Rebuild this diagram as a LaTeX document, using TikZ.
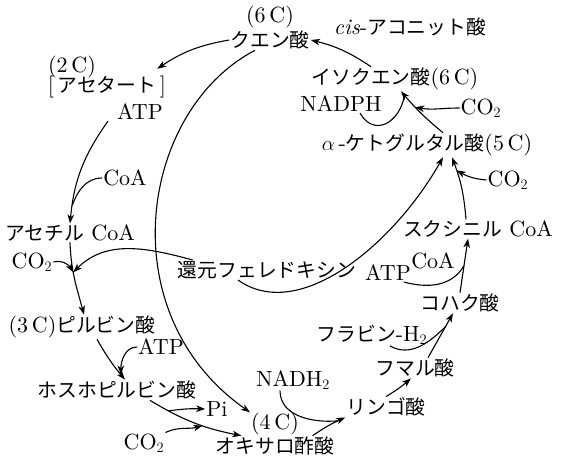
\documentclass[tikz,border=0pt]{standalone}
\usepackage{fontspec}
\setmainfont{lmroman10}[Extension=.otf,UprightFont=*-regular,ItalicFont=*-italic,BoldFont=*-bold]
\newfontfamily\jpfont{Noto Sans CJK JP}[Scale=0.9]
\usetikzlibrary{arrows.meta,positioning}

\begin{document}
\begin{tikzpicture}[
  x=1pt,y=1pt,
  >={Stealth[length=9pt,width=6.5pt,inset=2.5pt]},
  every node/.style={font=\fontsize{22}{26}\selectfont,inner sep=1pt},
  flow/.style={->,line width=1.1pt},
  side/.style={line width=1.1pt},
]
\useasboundingbox (0,0) rectangle (566,-461);

%% upper part of the cycle
\node (cit) at (270,-40) {\jpfont クエン酸};
\node[above=0pt of cit] (c6) {(6\,C)};
\node (cis) at (410,-27) {\textit{cis}-{\jpfont アコニット酸}};
\node (iso) at (395,-79) {{\jpfont イソクエン酸}(6\,C)};
\node (nadph) at (341,-104) {NADPH};
\node (co2a) at (481,-108) {CO$_2$};
\node (akg) at (427,-145) {$\alpha$\,-{\jpfont ケトグルタル酸}(5\,C)};
\node (co2b) at (508,-180) {CO$_2$};
\node (suc) at (478,-229) {{\jpfont スクシニル} CoA};
\node (coa2) at (433,-261) {CoA};
\node (atp2) at (388,-273) {ATP};
\node (fd) at (267,-270) {\jpfont 還元フェレドキシン};

%% lower right
\node (kohaku) at (460,-303) {\jpfont コハク酸};
\node (fad) at (372,-335) {{\jpfont フラビン}-H$_2$};
\node (fum) at (415,-368) {\jpfont フマル酸};
\node (mal) at (386,-407) {\jpfont リンゴ酸};
\node (nadh) at (293,-380) {NADH$_2$};
\node (oaa) at (275,-446) {\jpfont オキサロ酢酸};
\node[above=-1pt of oaa] (c4) {(4\,C)};

%% left side
\node (pi) at (217,-409) {Pi};
\node (co2d) at (144,-443) {CO$_2$};
\node (pep) at (117,-390) {\jpfont ホスホピルビン酸};
\node (atp3) at (161,-347) {ATP};
\node (pyr) at (82,-327) {(3\,C){\jpfont ピルビン酸}};
\node (co2c) at (32,-262) {CO$_2$};
\node (acoa) at (70,-233) {{\jpfont アセチル} CoA};
\node (coa1) at (125,-178) {CoA};
\node (atp1) at (140,-112) {ATP};
\node (acet) at (107,-87) {[\,{\jpfont アセタート}\,]};
\node (c2) at (72,-67) {(2\,C)};

%% arrows
\draw[flow] (cit.west) to[bend right=12] ([shift={(-10pt,6pt)}]acet.north east);
\draw[flow] ([xshift=-8pt]atp1.south west) to[bend right=15] coordinate[pos=0.85] (j1) (acoa.north);
\draw[side] (coa1.west) to[out=180,in=70] (j1);
\draw[flow] (acoa.south) to[out=-88,in=105] coordinate[pos=0.4] (j2) ([xshift=2pt]pyr.north);
\draw[flow] (co2c.east) to[out=15,in=120] (j2);
\draw[flow] ([xshift=16pt]fd.north west) to[out=165,in=45] (j2);
\draw[flow] ([xshift=-15pt]cit.south) .. controls +(-115,-60) and +(-141,99) .. (c4.north west);
\draw[flow] ([xshift=15pt]pyr.south) to[bend right=5] coordinate[pos=0.88] (j3) ([xshift=8pt]pep.north);
\draw[flow] (atp3.west) to[out=180,in=90] (j3);
\draw[flow] ([xshift=33pt]pep.south) to[bend right=10] coordinate[pos=0.2] (j4) coordinate[pos=0.6] (j5) ([xshift=27pt]oaa.north west);
\draw[flow] (j4) to[bend left=5] (pi.west);
\draw[flow] (co2d.north east) to[out=25,in=195] (j5);
\draw[flow] ([xshift=-23pt]oaa.north east) to[bend left=5] coordinate[pos=0.8] (j6) (mal.south west);
\draw[side] ([xshift=-13pt]nadh.south) to[out=-90,in=185] (j6);
\draw[flow] (mal.north) to[bend right=5] ([xshift=-4pt]fum.south);
\draw[flow] ([xshift=13pt]fum.north) to coordinate[pos=0.7] (j7) ([xshift=-7pt]kohaku.south);
\draw[side] ([xshift=18pt]fad.south) to[out=-30,in=225] (j7);
\draw[flow] (kohaku.north) to coordinate[pos=0.5] (j8) ([xshift=-10pt]suc.south);
\draw[side] ([xshift=-8pt]atp2.south east) to[out=-15,in=240] (j8);
\draw[flow] ([xshift=-29pt]fd.south) .. controls +(62,-44) and +(-48,-85) .. ([xshift=16pt]akg.south);
\draw[flow] ([xshift=-12pt]suc.north) to[bend right=8] coordinate[pos=0.8] (j9) ([xshift=25pt]akg.south);
\draw[flow] (co2b.west) to[out=175,in=-30] (j9);
\draw[flow] ([xshift=16pt]akg.north) to[bend left=5] coordinate[pos=0.65] (j10) coordinate[pos=0.92] (j11) ([xshift=6pt]iso.south);
\draw[flow] (co2a.west) to[out=180,in=-10] (j10);
\draw[side] ([xshift=19pt]nadph.south) to[out=-60,in=-100,looseness=1.5] (j11);
\draw[flow] ([xshift=-24pt]iso.north) to[bend right=10] (cit.east);

\end{tikzpicture}
\end{document}
